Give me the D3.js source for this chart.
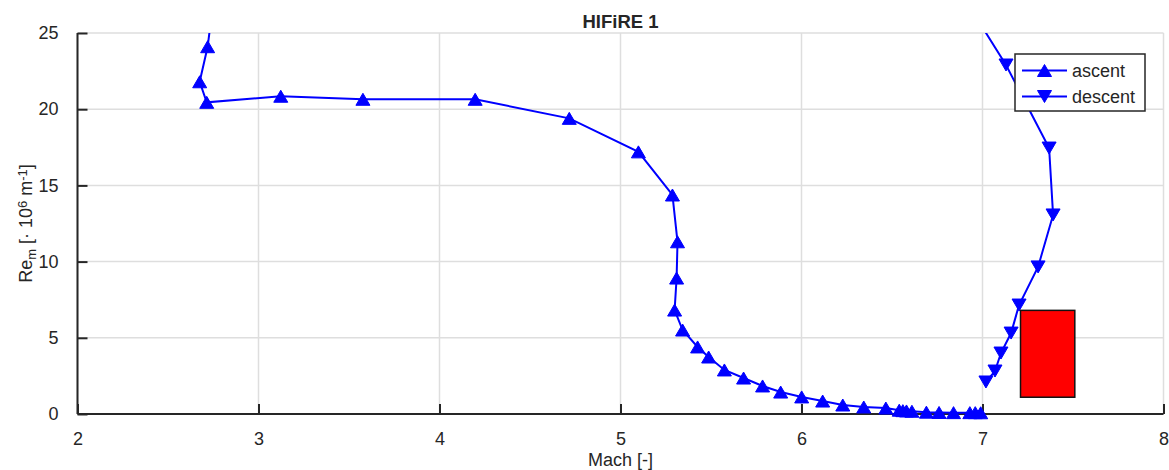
<!DOCTYPE html>
<html>
<head>
<meta charset="utf-8">
<script src="https://cdn.jsdelivr.net/npm/d3@7"></script>
<style>
  body { margin: 0; background: #fff; }
  svg { display: block; }
  text { font-family: "Liberation Sans", Arial, Helvetica, sans-serif; fill: #262626; }
</style>
</head>
<body>
<svg id="chart" width="1169" height="470"></svg>
<script>
// HIFiRE 1 trajectory: unit Reynolds number vs Mach number
const ascentMach = [2.75, 2.719, 2.675, 2.714, 3.123, 3.577, 4.197, 4.717, 5.099, 5.287, 5.315, 5.310, 5.299,
  5.343, 5.426, 5.487, 5.574, 5.680, 5.785, 5.885, 6.001, 6.117, 6.228, 6.344, 6.466,
  6.54, 6.56, 6.58, 6.61, 6.69, 6.76, 6.84, 6.93, 6.96, 6.99];
const ascentRe = [27.0, 24.1, 21.8, 20.45, 20.85, 20.65, 20.65, 19.4, 17.2, 14.37, 11.3, 8.92, 6.82,
  5.51, 4.40, 3.74, 2.89, 2.36, 1.84, 1.44, 1.12, 0.85, 0.59, 0.46, 0.39,
  0.25, 0.22, 0.20, 0.18, 0.12, 0.10, 0.09, 0.09, 0.09, 0.08];

const descentMach = [6.914, 7.130, 7.368, 7.390, 7.307, 7.202, 7.158, 7.102, 7.069, 7.019];
const descentRe = [27.0, 22.9, 17.45, 13.06, 9.65, 7.15, 5.31, 4.00, 2.82, 2.10];

// Highlighted test window
const windowMach = [7.21, 7.51];
const windowRe = [1.1, 6.8];

const xTicks = [2, 3, 4, 5, 6, 7, 8];
const yTicks = [0, 5, 10, 15, 20, 25];
const xDomain = [2, 8];
const yDomain = [0, 25];

const svg = d3.select("#chart");
const plotL = 77.5, plotR = 1163.5, plotT = 33, plotB = 414;
const ink = "#262626";
const blue = "#0000ff";

const x = d3.scaleLinear().domain(xDomain).range([plotL, plotR]);
const y = d3.scaleLinear().domain(yDomain).range([plotB, plotT]);

svg.append("rect").attr("width", 1169).attr("height", 470).attr("fill", "#fff");

svg.append("defs").append("clipPath").attr("id", "plotClip")
  .append("rect").attr("x", plotL).attr("y", plotT).attr("width", plotR - plotL).attr("height", plotB - plotT);

// grid
const grid = svg.append("g");
grid.selectAll("line.gx").data(xTicks).join("line").attr("class", "gx")
  .attr("x1", d => x(d)).attr("x2", d => x(d)).attr("y1", plotT).attr("y2", plotB)
  .attr("stroke", "#dedede").attr("stroke-width", 1.5);
grid.selectAll("line.gy").data(yTicks).join("line").attr("class", "gy")
  .attr("y1", d => y(d)).attr("y2", d => y(d)).attr("x1", plotL).attr("x2", plotR)
  .attr("stroke", "#dedede").attr("stroke-width", 1.5);

// axes
const xAxis = d3.axisBottom(x).tickValues(xTicks).tickSize(-10).tickPadding(18).tickFormat(d3.format("d"));
const yAxis = d3.axisLeft(y).tickValues(yTicks).tickSize(-10).tickPadding(19).tickFormat(d3.format("d"));

const gx = svg.append("g").attr("transform", `translate(0,${plotB})`).call(xAxis);
const gy = svg.append("g").attr("transform", `translate(${plotL},0)`).call(yAxis);
[gx, gy].forEach(g => {
  g.select(".domain").attr("stroke", ink).attr("stroke-width", 2);
  g.selectAll(".tick line").attr("stroke", ink).attr("stroke-width", 2);
  g.selectAll(".tick text").attr("fill", ink).style("font-size", "18px")
    .style("font-family", '"Liberation Sans", Arial, sans-serif');
});
gx.select(".domain").attr("d", `M${plotL},0H${plotR}`);
gy.select(".domain").attr("d", `M0,${plotB}V${plotT}`);

// series
const line = d3.line().x(d => x(d[0])).y(d => y(d[1]));
const ascent = ascentMach.map((m, i) => [m, ascentRe[i]]);
const descent = descentMach.map((m, i) => [m, descentRe[i]]);

const upTri = "M0,-6 L7,6 L-7,6 Z";
const downTri = "M0,6 L7,-6 L-7,-6 Z";

const plot = svg.append("g");
plot.append("path").datum(ascent).attr("d", line).attr("fill", "none")
  .attr("stroke", blue).attr("stroke-width", 2).attr("clip-path", "url(#plotClip)");
plot.append("path").datum(descent).attr("d", line).attr("fill", "none")
  .attr("stroke", blue).attr("stroke-width", 2).attr("clip-path", "url(#plotClip)");

const inView = d => d[1] <= yDomain[1] && d[1] >= yDomain[0];
plot.selectAll("path.up").data(ascent.filter(inView)).join("path").attr("class", "up")
  .attr("d", upTri).attr("transform", d => `translate(${x(d[0])},${y(d[1])})`)
  .attr("fill", blue).attr("stroke", blue).attr("stroke-width", 1);
plot.selectAll("path.down").data(descent.filter(inView)).join("path").attr("class", "down")
  .attr("d", downTri).attr("transform", d => `translate(${x(d[0])},${y(d[1])})`)
  .attr("fill", blue).attr("stroke", blue).attr("stroke-width", 1);

// test window
svg.append("rect")
  .attr("x", x(windowMach[0])).attr("y", y(windowRe[1]))
  .attr("width", x(windowMach[1]) - x(windowMach[0]))
  .attr("height", y(windowRe[0]) - y(windowRe[1]))
  .attr("fill", "#ff0000").attr("stroke", "#111").attr("stroke-width", 1.5);

// title and labels
svg.append("text").attr("x", (plotL + plotR) / 2).attr("y", 28).attr("text-anchor", "middle")
  .style("font-size", "18.5px").style("font-weight", "bold").attr("fill", "#111").text("HIFiRE 1");

svg.append("text").attr("x", (plotL + plotR) / 2).attr("y", 466).attr("text-anchor", "middle")
  .style("font-size", "18px").attr("fill", ink).text("Mach [-]");

const yl = svg.append("text")
  .attr("transform", `translate(32,${(plotT + plotB) / 2}) rotate(-90)`)
  .attr("text-anchor", "middle").style("font-size", "18px").attr("fill", ink);
yl.append("tspan").text("Re");
yl.append("tspan").attr("baseline-shift", "-30%").style("font-size", "13px").text("m");
yl.append("tspan").text(" [· 10");
yl.append("tspan").attr("baseline-shift", "40%").style("font-size", "13px").text("6");
yl.append("tspan").text(" m");
yl.append("tspan").attr("baseline-shift", "40%").style("font-size", "13px").text("-1");
yl.append("tspan").text("]");

// legend
const lg = svg.append("g");
lg.append("rect").attr("x", 1015).attr("y", 54).attr("width", 130).attr("height", 57)
  .attr("fill", "#fff").attr("stroke", ink).attr("stroke-width", 1.5);
const legendItems = [["ascent", upTri, 70.5], ["descent", downTri, 96.5]];
legendItems.forEach(([label, shape, ly]) => {
  lg.append("line").attr("x1", 1022).attr("x2", 1067).attr("y1", ly).attr("y2", ly)
    .attr("stroke", blue).attr("stroke-width", 2);
  lg.append("path").attr("d", shape).attr("transform", `translate(1044.5,${ly})`)
    .attr("fill", blue).attr("stroke", blue).attr("stroke-width", 1);
  lg.append("text").attr("x", 1072).attr("y", ly + 6.5).style("font-size", "18px")
    .attr("fill", ink).text(label);
});
</script>
</body>
</html>
